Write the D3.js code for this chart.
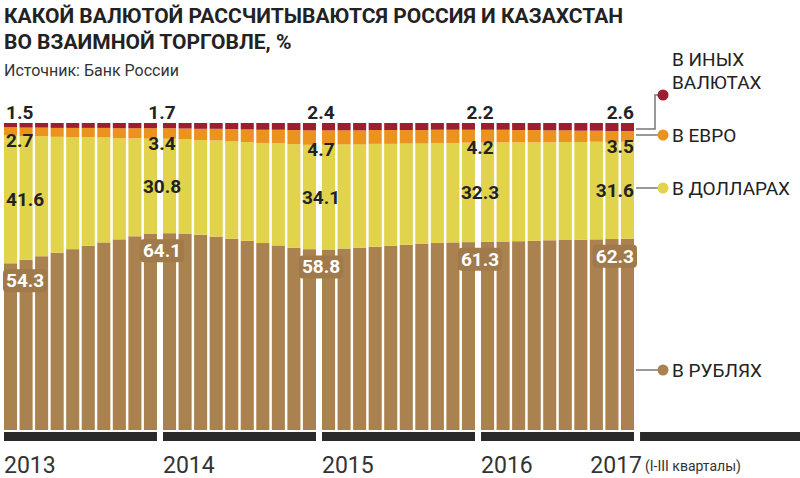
<!DOCTYPE html>
<html><head><meta charset="utf-8">
<script src="https://cdn.jsdelivr.net/npm/d3@7"></script>
<style>body{margin:0;background:#fff}svg{display:block}text{font-family:"Liberation Sans Narrow","Roboto","DejaVu Sans Condensed",sans-serif}</style>
</head><body><svg id="c" width="800" height="478"></svg>
<script>
const years = ["2013","2014","2015","2016"];
const barsPerYear = 10;
const rub = [54.3,55.4,56.6,57.7,58.9,60.0,61.1,62.1,63.1,64.0, 64.1,64.0,63.6,63.0,62.3,61.6,60.9,60.1,59.4,58.9, 58.8,59.1,59.4,59.7,60.0,60.3,60.6,60.9,61.1,61.2, 61.3,61.4,61.5,61.6,61.8,61.9,62.0,62.1,62.2,62.3];
const usd = [41.6,40.3,39.1,37.8,36.5,35.4,34.2,33.0,31.9,30.9, 30.8,30.7,30.8,31.3,31.7,32.2,32.6,33.3,33.7,34.0, 34.1,33.9,33.6,33.5,33.2,33.0,32.7,32.6,32.4,32.4, 32.3,32.3,32.2,32.1,31.9,31.9,31.8,31.8,31.6,31.6];
const eur = [2.7,2.8,2.8,2.9,3.0,3.0,3.1,3.2,3.3,3.4, 3.4,3.5,3.7,3.8,4.0,4.1,4.3,4.4,4.6,4.7, 4.7,4.6,4.6,4.5,4.5,4.4,4.4,4.3,4.3,4.2, 4.2,4.1,4.0,4.0,3.9,3.8,3.7,3.6,3.6,3.5];
const oth = [1.5,1.5,1.5,1.6,1.6,1.6,1.6,1.7,1.7,1.7, 1.7,1.8,1.9,1.9,2.0,2.1,2.2,2.2,2.3,2.4, 2.4,2.4,2.4,2.3,2.3,2.3,2.3,2.2,2.2,2.2, 2.2,2.2,2.3,2.3,2.4,2.4,2.5,2.5,2.6,2.6];
const labelBars = [0,10,20,30,39];
const axisYears = ["2013","2014","2015","2016","2017"];
const seriesNames = ["В РУБЛЯХ","В ДОЛЛАРАХ","В ЕВРО","В ИНЫХ ВАЛЮТАХ"];
const colors = ["#a9824f","#e2d34d","#ec921e","#9c1f31"];

const svg = d3.select("#c");
const rows = rub.map((r,i)=>({i, year: years[Math.floor(i/barsPerYear)], rub:r, usd:usd[i], eur:eur[i], oth:oth[i]}));
const keys = ["rub","usd","eur","oth"];
const stack = d3.stack().keys(keys)(rows);

const gx = d3.scaleBand().domain(years).range([4,634]).paddingInner(0.038);
const bx = d3.scaleBand().domain(d3.range(barsPerYear)).range([0,gx.bandwidth()]).paddingInner(0.16).paddingOuter(0.0);
const xL = i => gx(years[Math.floor(i/barsPerYear)]) + bx(i%barsPerYear);
const y = d3.scaleLinear().domain([0,100]).range([430,123]);

stack.forEach((s,k)=>{
  svg.append("g").selectAll("rect").data(s).join("rect")
    .attr("x",d=>xL(d.data.i)).attr("width",bx.bandwidth())
    .attr("y",d=>y(Math.min(d[1],100))).attr("height",d=>y(d[0])-y(Math.min(d[1],100)))
    .attr("fill",colors[k]);
});

svg.append("g").selectAll("rect").data(years).join("rect")
  .attr("x",d=>gx(d)).attr("width",gx.bandwidth()).attr("y",432).attr("height",9).attr("fill","#2a2a2a");
svg.append("rect").attr("x",gx("2016")+gx.step()).attr("width",800-(gx("2016")+gx.step())).attr("y",432).attr("height",9).attr("fill","#2a2a2a");

axisYears.forEach((t,j)=>{
  const s = svg.append("text").attr("y",473).attr("font-size",23).attr("fill","#333").text(t);
  if(j<4) s.attr("x",gx(years[j]));
  else s.attr("x",642).attr("text-anchor","end");
});
svg.append("text").attr("x",645).attr("y",471).attr("font-size",14).attr("fill","#333").text("(I-III кварталы)");

labelBars.forEach((b,j)=>{
  let xx, anchor;
  if(j===0){xx=xL(b)+2;anchor="start";}
  else if(j===labelBars.length-1){xx=xL(b)+bx.bandwidth();anchor="end";}
  else {xx=gx(years[Math.floor(b/barsPerYear)])-1;anchor="middle";}
  const r = rows[b];
  const put=(v,yy,fill)=>svg.append("text").attr("x",xx).attr("y",yy).attr("text-anchor",anchor)
     .attr("font-size",19).attr("font-weight","bold").attr("fill",fill).text(v.toFixed(1));
  put(r.oth, y(100)-4, "#222");
  put(r.eur, y(100-r.oth-r.eur)+11, "#222");
  put(r.usd, y(r.rub+r.usd/2)+7, "#222");
  const t = put(r.rub, y(r.rub)+24, "#fff");
  const bb = t.node().getBBox();
  svg.insert("rect", function(){return t.node();}).attr("x",bb.x-3).attr("y",bb.y).attr("width",bb.width+6).attr("height",bb.height)
    .attr("rx",4).attr("fill","#a07a4a");
});

const lx = 663;
const last = rows[rows.length-1];
const legY = [370, 188, 135, 95];
const lineFromY = [370, 188, 135, y(100-last.oth/2)+2];
const edge = xL(39)+bx.bandwidth()+2;
seriesNames.forEach((n,k)=>{
  if(k===3){
    svg.append("path").attr("d",`M${edge},${lineFromY[3]}H${lx-8}V${legY[3]}H${lx}`).attr("fill","none").attr("stroke","#777").attr("stroke-width",1.5);
  } else {
    svg.append("line").attr("x1",edge).attr("x2",lx).attr("y1",legY[k]).attr("y2",legY[k]).attr("stroke","#777").attr("stroke-width",1.5);
  }
  svg.append("circle").attr("cx",lx).attr("cy",legY[k]).attr("r",5.5).attr("fill",colors[k]);
  if(k===3){
    svg.append("text").attr("x",672).attr("y",66).attr("font-size",19).attr("fill","#222").text("В ИНЫХ");
    svg.append("text").attr("x",672).attr("y",89).attr("font-size",19).attr("fill","#222").text("ВАЛЮТАХ");
  } else {
    svg.append("text").attr("x",672).attr("y",legY[k]+7).attr("font-size",19).attr("fill","#222").text(n);
  }
});

svg.append("text").attr("x",4).attr("y",23).attr("font-size",21).attr("font-weight","bold").attr("fill","#222").text("КАКОЙ ВАЛЮТОЙ РАССЧИТЫВАЮТСЯ РОССИЯ И КАЗАХСТАН");
svg.append("text").attr("x",4).attr("y",49).attr("font-size",21).attr("font-weight","bold").attr("fill","#222").text("ВО ВЗАИМНОЙ ТОРГОВЛЕ, %");
svg.append("text").attr("x",4).attr("y",76).attr("font-size",16).attr("fill","#333").text("Источник: Банк России");
</script></body></html>
